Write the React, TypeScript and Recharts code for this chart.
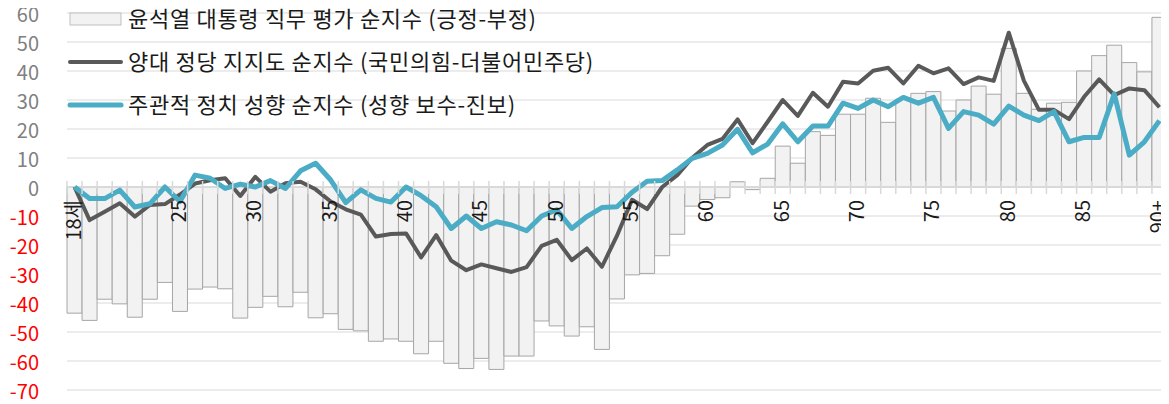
import React from 'react';
import { ComposedChart, Bar, Line, XAxis, YAxis, CartesianGrid, ReferenceLine, Legend } from 'recharts';

const ages = [
  '18세', '19', '20', '21', '22', '23', '24', '25', '26', '27',
  '28', '29', '30', '31', '32', '33', '34', '35', '36', '37',
  '38', '39', '40', '41', '42', '43', '44', '45', '46', '47',
  '48', '49', '50', '51', '52', '53', '54', '55', '56', '57',
  '58', '59', '60', '61', '62', '63', '64', '65', '66', '67',
  '68', '69', '70', '71', '72', '73', '74', '75', '76', '77',
  '78', '79', '80', '81', '82', '83', '84', '85', '86', '87',
  '88', '89', '90+',
];

const shownAgeLabels = ['18세', '25', '30', '35', '40', '45', '50', '55', '60', '65', '70', '75', '80', '85', '90+'];

const approvalNet = [
  -43.5, -46, -38.7, -40.3, -44.9, -38.7, -32.9, -42.9, -35.2, -34.5,
  -35.1, -45.2, -41.5, -37.7, -41.3, -36.3, -45.1, -43.7, -49.1, -49.6,
  -53.2, -52.4, -53.2, -57.5, -53.2, -60.8, -62.6, -59.1, -62.9, -58.3,
  -58.3, -46.2, -47.9, -51.4, -48.2, -56, -38.6, -30.3, -29.8, -23.7,
  -16.3, -6.6, -4.3, -3.7, 1.8, -0.9, 3, 14.1, 8.2, 19.1,
  17.8, 25.1, 25.1, 30.6, 22.3, 30.3, 32.3, 32.9, 26.2, 30,
  34.8, 32, 47.8, 32.3, 26.8, 28.9, 29.2, 40, 45.3, 48.9,
  42.9, 39.7, 58.5,
];

const partyNet = [
  0, -11.4, -8.5, -5.6, -10.2, -6.2, -5.9, -2.6, 1.2, 2.3,
  3, -3.1, 3.5, -1.6, 1.3, 1.8, -0.8, -5, -7.7, -9.5,
  -17.1, -16.2, -16, -24.3, -16.6, -25.4, -28.7, -26.7, -28, -29.3,
  -27.6, -20.3, -18.2, -25.2, -21.2, -27.5, -16.8, -4.4, -7.6, 0,
  4.1, 10.1, 14.5, 16.6, 23.3, 15.1, 22.5, 30, 24.5, 32.5,
  27.7, 36.3, 35.7, 40.1, 41.1, 35.7, 41.8, 39.2, 40.9, 35.5,
  37.8, 36.6, 53.2, 36.7, 26.6, 26.6, 23.4, 31.1, 37.1, 31.7,
  34, 33.4, 27.5,
];

const ideologyNet = [
  0, -4, -4, -1.1, -6.9, -5.8, 0, -5, 4.1, 3,
  -0.5, 1, 0, 2.2, -0.5, 5.6, 8.2, 2.4, -5.4, -1,
  -3.9, -5.2, 0, -3, -6.8, -14.3, -10, -14.3, -12, -13.1,
  -15.1, -10, -7.9, -14.3, -10.2, -7.1, -6.8, -1.8, 2, 2.2,
  5.9, 9.9, 11.6, 14.5, 19.9, 11.8, 14.8, 21.8, 15.6, 21,
  21, 28.9, 27.1, 30, 27.7, 30.9, 28.9, 30.9, 20.2, 26,
  24.8, 21.7, 27.9, 24.8, 22.9, 26, 15.6, 17.1, 17.1, 32.1,
  11, 15.6, 22.9,
];

const yTicks = [60, 50, 40, 30, 20, 10, 0, -10, -20, -30, -40, -50, -60, -70];

const seriesNames = [
  '윤석열 대통령 직무 평가 순지수 (긍정-부정)',
  '양대 정당 지지도 순지수 (국민의힘-더불어민주당)',
  '주관적 정치 성향 순지수 (성향 보수-진보)',
];

const data = ages.map((age, i) => ({
  age,
  approval: approvalNet[i],
  party: partyNet[i],
  ideology: ideologyNet[i],
}));

const FONT = '"Noto Sans CJK KR", "Noto Sans", sans-serif';
const W = 1169;
const H = 404;
const X_AXIS_H = 14;
const MARGIN = { top: 13, right: 2, bottom: 0, left: 8 };
const Y_AXIS_W = 59;
const Y_MAX = 60;
const Y_MIN = -70;
const plotTop = MARGIN.top;
const plotH = H - MARGIN.top - MARGIN.bottom - X_AXIS_H;
const zeroY = plotTop + (plotH * Y_MAX) / (Y_MAX - Y_MIN);
const plotW = W - MARGIN.left - MARGIN.right - Y_AXIS_W;
const bandW = plotW / ages.length;

const BAR_FILL = '#f2f2f2';
const BAR_STROKE = '#a6a6a6';
const DARK = '#595959';
const TEAL = '#4bacc6';

const XTick = (props: any) => {
  const { x, payload } = props;
  const idx = ages.indexOf(payload.value);
  const shown = shownAgeLabels.includes(payload.value);
  const ly = zeroY + 13;
  return (
    <g>
      <line x1={x - bandW / 2} x2={x - bandW / 2} y1={zeroY - 6} y2={zeroY + 7} stroke="#d9d9d9" strokeWidth={1.5} />
      {idx === ages.length - 1 && (
        <line x1={x + bandW / 2} x2={x + bandW / 2} y1={zeroY - 6} y2={zeroY + 7} stroke="#d9d9d9" strokeWidth={1.5} />
      )}
      {shown && (
        <text
          x={x}
          y={ly}
          dy="0.3em"
          transform={`rotate(-90 ${x} ${ly})`}
          textAnchor="end"
          fontFamily={FONT}
          fontSize={20}
          fill="#1a1a1a"
        >
          {payload.value}
        </text>
      )}
    </g>
  );
};

const YTick = (props: any) => {
  const { x, y, payload } = props;
  return (
    <text
      x={x}
      y={y + 2}
      dy="0.36em"
      textAnchor="end"
      fontFamily={FONT}
      fontSize={20}
      fill={payload.value < 0 ? '#ff0000' : '#808080'}
    >
      {payload.value}
    </text>
  );
};

const LegendContent = () => {
  const rows = [0, 1, 2];
  const sx = 70;
  const sw = 51;
  const tx = 128;
  const cy = [19, 62, 105];
  return (
    <svg width={700} height={125} style={{ display: 'block', overflow: 'visible' }}>
      {rows.map((r) => (
        <g key={r}>
          {r === 0 && <rect x={sx} y={cy[r] - 6} width={sw} height={12} fill={BAR_FILL} stroke="#bfbfbf" strokeWidth={1} />}
          {r === 1 && <line x1={sx} x2={sx + sw} y1={cy[r]} y2={cy[r]} stroke={DARK} strokeWidth={4} strokeLinecap="round" />}
          {r === 2 && <line x1={sx} x2={sx + sw} y1={cy[r]} y2={cy[r]} stroke={TEAL} strokeWidth={5} strokeLinecap="round" />}
          <text x={tx} y={cy[r]} dy="0.36em" fontFamily={FONT} fontSize={22} letterSpacing={0.7} fill="#1a1a1a">
            {seriesNames[r]}
          </text>
        </g>
      ))}
    </svg>
  );
};

export default function App() {
  return (
    <div style={{ width: W, height: H, margin: '-8px 0 0 -8px' }}>
      <ComposedChart
        width={W}
        height={H}
        data={data}
        margin={MARGIN}
        barCategoryGap={0}
        barGap={0}
      >
        <CartesianGrid horizontal vertical={false} stroke="#ececec" strokeWidth={2} />
        <XAxis
          dataKey="age"
          interval={0}
          height={X_AXIS_H}
          axisLine={false}
          tickLine={false}
          tick={<XTick />}
        />
        <YAxis
          width={Y_AXIS_W}
          domain={[Y_MIN, Y_MAX]}
          ticks={yTicks}
          interval={0}
          axisLine={false}
          tickLine={false}
          tickSize={6}
          tickMargin={22}
          tick={<YTick />}
        />
        <Legend
          layout="vertical"
          align="center"
          verticalAlign="middle"
          wrapperStyle={{ top: 0, left: 0, width: 700, height: 125 }}
          content={<LegendContent />}
        />
        <Bar dataKey="approval" name={seriesNames[0]} fill={BAR_FILL} stroke={BAR_STROKE} strokeWidth={1} isAnimationActive={false} />
        <ReferenceLine y={0} stroke="#d9d9d9" strokeWidth={2} />
        <Line type="linear" dataKey="party" name={seriesNames[1]} stroke={DARK} strokeWidth={4} dot={false} strokeLinejoin="round" isAnimationActive={false} />
        <Line type="linear" dataKey="ideology" name={seriesNames[2]} stroke={TEAL} strokeWidth={5} dot={false} strokeLinejoin="round" isAnimationActive={false} />
      </ComposedChart>
    </div>
  );
}
